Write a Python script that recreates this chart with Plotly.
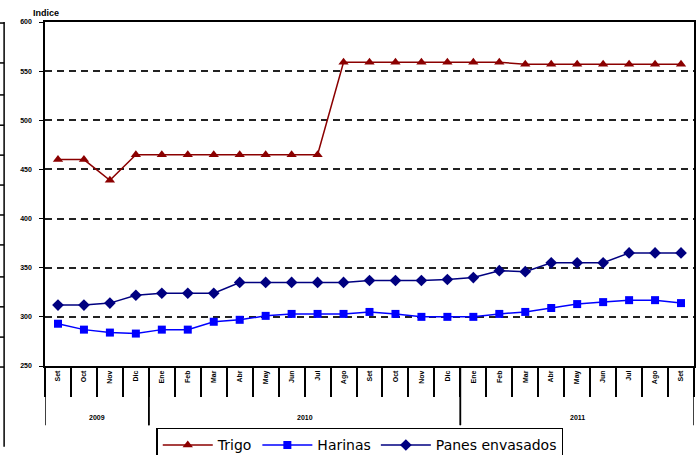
import plotly.graph_objects as go

years = ["2009"] * 4 + ["2010"] * 12 + ["2011"] * 9
months = ["Set", "Oct", "Nov", "Dic",
          "Ene", "Feb", "Mar", "Abr", "May", "Jun", "Jul", "Ago", "Set", "Oct", "Nov", "Dic",
          "Ene", "Feb", "Mar", "Abr", "May", "Jun", "Jul", "Ago", "Set"]

trigo = [460, 460, 439, 465, 465, 465, 465, 465, 465, 465, 465, 559, 559, 559, 559, 559,
         559, 559, 557, 557, 557, 557, 557, 557, 557]
harinas = [293, 287, 284, 283, 287, 287, 295, 297, 301, 303, 303, 303, 305, 303, 300, 300,
           300, 303, 305, 309, 313, 315, 317, 317, 314]
panes = [312, 312, 314, 322, 324, 324, 324, 335, 335, 335, 335, 335, 337, 337, 337, 338,
         340, 347, 346, 355, 355, 355, 365, 365, 365]

# unique category keys, shown with month names only
x = [f"{m} {y}" for m, y in zip(months, years)]

fig = go.Figure()
fig.add_trace(go.Scatter(
    x=x, y=trigo, name="Trigo", mode="lines+markers",
    line=dict(color="#8B0000", width=1.5),
    marker=dict(symbol="triangle-up", size=9, color="#8B0000"),
))
fig.add_trace(go.Scatter(
    x=x, y=harinas, name="Harinas", mode="lines+markers",
    line=dict(color="#0000FF", width=1.5),
    marker=dict(symbol="square", size=8, color="#0000FF"),
))
fig.add_trace(go.Scatter(
    x=x, y=panes, name="Panes envasados", mode="lines+markers",
    line=dict(color="#000080", width=1.5),
    marker=dict(symbol="diamond", size=9, color="#000080"),
))

tiny = dict(family="Arial", size=7, color="black", weight="bold")

# year groups: dividers and labels under the month labels
shapes = []
annotations = []
groups = []
for i, yr in enumerate(years):
    if not groups or groups[-1][0] != yr:
        groups.append([yr, i, i])
    else:
        groups[-1][2] = i
for yr, a, b in groups:
    for edge in (a - 0.5, b + 0.5):
        shapes.append(dict(type="line", xref="x", yref="paper", x0=edge, x1=edge,
                           y0=0, y1=-0.172, line=dict(color="black", width=1.5)))
    annotations.append(dict(text=yr, xref="x", yref="paper", x=(a + b) / 2, y=-0.165,
                            showarrow=False, font=tiny))

# leftover edge of a neighbouring chart at the left border
shapes.append(dict(type="line", xref="paper", yref="paper", x0=-0.063, x1=-0.063,
                   y0=1.0, y1=-0.235, line=dict(color="black", width=1.5)))
for yy in [0.997, 0.881, 0.788, 0.70, 0.613, 0.526, 0.439, 0.352, 0.259, 0.172, 0.084, -0.003]:
    shapes.append(dict(type="line", xref="paper", yref="paper", x0=-0.07, x1=-0.063,
                       y0=yy, y1=yy, line=dict(color="black", width=1.5)))

annotations.append(dict(text="Indice", xref="paper", yref="paper", x=-0.021, y=1.0,
                        xanchor="left", yanchor="bottom", yshift=2, showarrow=False,
                        font=dict(family="Arial", size=9, color="black", weight="bold")))

fig.update_layout(
    width=699, height=455,
    margin=dict(l=45, r=5, t=22, b=89, autoexpand=False),
    paper_bgcolor="white", plot_bgcolor="white",
    showlegend=True,
    legend=dict(
        orientation="h", x=0.485, xanchor="center", y=-0.18, yanchor="top",
        bordercolor="black", borderwidth=1.5,
        font=dict(family="DejaVu Sans", size=14, color="black"),
        itemwidth=50, tracegroupgap=0,
    ),
    xaxis=dict(
        type="category", tickvals=x, ticktext=months, tickson="boundaries",
        range=[-0.5, len(x) - 0.5], automargin=False,
        showline=True, linecolor="black", linewidth=1.5, mirror=True,
        ticks="outside", ticklen=29, tickcolor="black", tickwidth=1.5,
        tickangle=-90, tickfont=tiny, showgrid=False,
    ),
    yaxis=dict(
        range=[250, 600], dtick=50, automargin=False,
        showline=True, linecolor="black", linewidth=1.5, mirror=True,
        ticks="outside", ticklen=4, tickcolor="black", ticklabelstandoff=6,
        tickfont=tiny, showgrid=True, gridcolor="#222222", gridwidth=1.6, griddash="7px,5px",
        zeroline=False,
    ),
    shapes=shapes,
    annotations=annotations,
)

# drop the default page margin so the figure sits at the window's top-left corner
fig.write_html("out.html", config={"displayModeBar": False},
               post_script="document.body.style.margin = '0';")
